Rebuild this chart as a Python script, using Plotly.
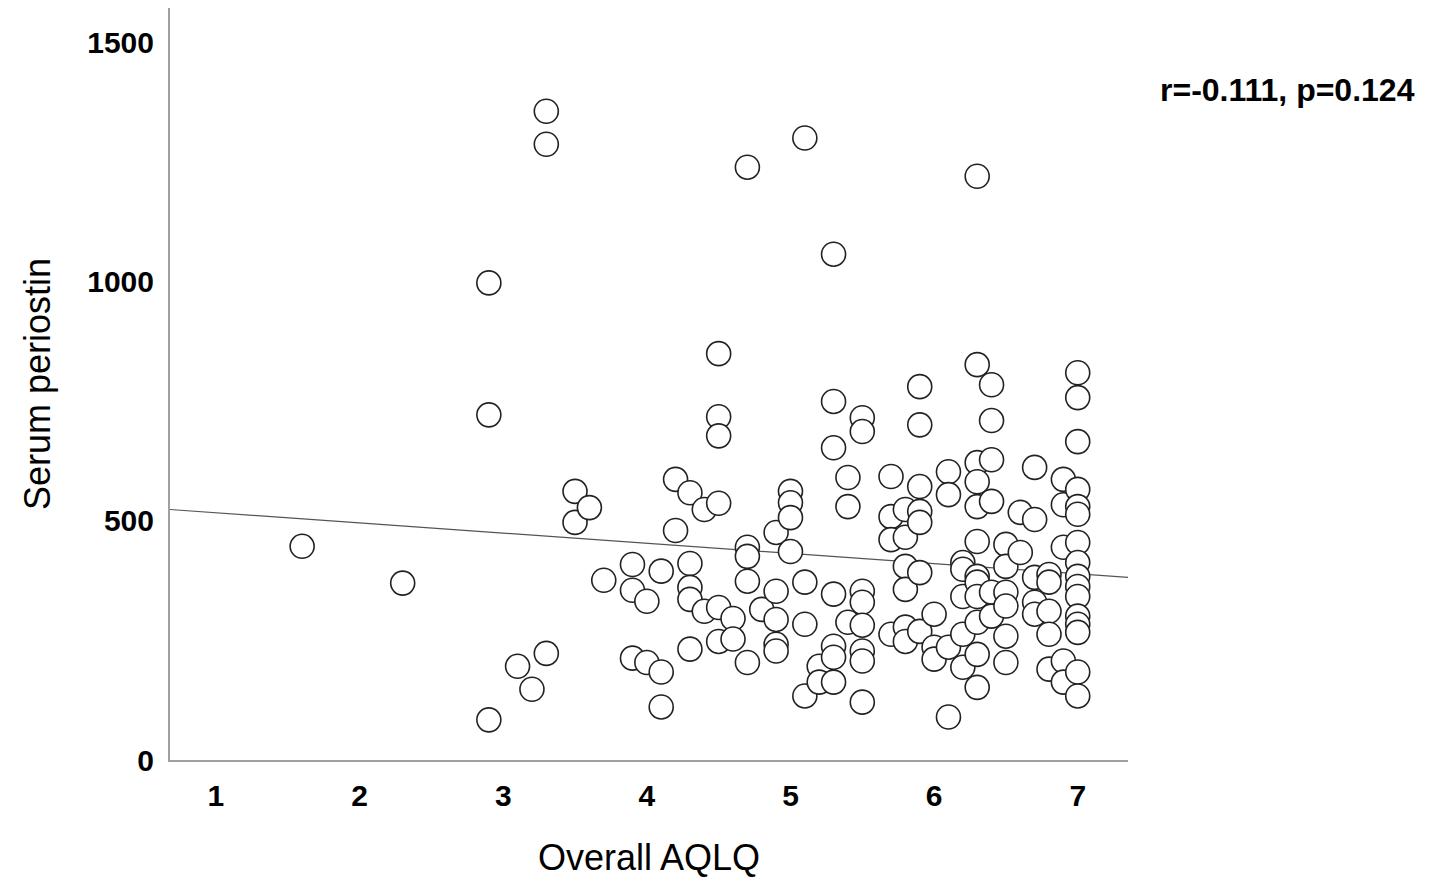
import plotly.graph_objects as go

# ---- data (Overall AQLQ vs Serum periostin) ----
aqlq_groups = [1.6, 2.3, 2.9, 3.1, 3.2, 3.3, 3.5, 3.6, 3.7, 3.9, 4.0, 4.1, 4.2, 4.3, 4.4, 4.5,
               4.6, 4.7, 4.8, 4.9, 5.0, 5.1, 5.2, 5.3, 5.4, 5.5, 5.7, 5.8, 5.9, 6.0, 6.1, 6.2,
               6.3, 6.4, 6.5, 6.6, 6.7, 6.8, 6.9, 7.0]
periostin_groups = [
    [447],
    [370],
    [998, 722, 84],
    [196],
    [148],
    [1357, 1288, 223],
    [562, 497],
    [528],
    [376],
    [409, 355, 213],
    [332, 204],
    [395, 184, 111],
    [587, 480],
    [559, 411, 361, 336, 232],
    [524, 311],
    [850, 718, 678, 537, 319, 248],
    [296, 253],
    [1240, 445, 426, 374, 204],
    [315],
    [476, 353, 294, 242, 228],
    [562, 538, 507, 436],
    [1301, 372, 284, 134],
    [196, 163],
    [1058, 750, 653, 347, 238, 215, 163],
    [591, 530, 288],
    [716, 687, 353, 330, 282, 228, 207, 121],
    [593, 509, 461, 263],
    [524, 466, 405, 357, 278, 248],
    [781, 701, 572, 520, 497, 392, 269],
    [305, 236, 211],
    [603, 555, 236, 90],
    [413, 399, 342, 263, 194],
    [1221, 827, 622, 582, 530, 457, 384, 372, 342, 288, 221, 152],
    [785, 710, 628, 541, 351, 301],
    [451, 405, 351, 322, 259, 204],
    [518, 434],
    [612, 503, 382, 330, 305],
    [388, 372, 311, 263, 190],
    [587, 534, 445, 207, 163],
    [810, 758, 666, 566, 530, 514, 455, 413, 384, 363, 342, 301, 284, 267, 184, 134],
]

fit_intercept = 538.5   # fitted line
fit_slope = -21.3
x_range = [0.68, 7.35]
y_range = [0, 1573]
x_ticks = [1, 2, 3, 4, 5, 6, 7]
y_ticks = [0, 500, 1000, 1500]
stat_text = "r=-0.111, p=0.124"

aqlq = []
periostin = []
for xv, ys in zip(aqlq_groups, periostin_groups):
    for yv in ys:
        aqlq.append(xv)
        periostin.append(yv)

fit_x = x_range
fit_y = [fit_intercept + fit_slope * v for v in fit_x]

fig = go.Figure()
fig.add_trace(go.Scatter(
    x=fit_x, y=fit_y, mode="lines",
    line=dict(color="#555555", width=1.2),
    showlegend=False, hoverinfo="skip"))
fig.add_trace(go.Scatter(
    x=aqlq, y=periostin, mode="markers",
    marker=dict(symbol="circle", size=24, color="white",
                line=dict(color="#222222", width=1.6)),
    showlegend=False))

font_family = "Liberation Sans, Arial, sans-serif"
fig.update_layout(
    width=1431, height=881,
    margin=dict(l=162, r=311, t=0, b=129, pad=0),
    paper_bgcolor="white", plot_bgcolor="white",
    font=dict(family=font_family, color="black"),
    xaxis=dict(range=x_range, tickvals=x_ticks,
               ticktext=[f"<b>{v}</b>" for v in x_ticks],
               tickfont=dict(size=30, family=font_family, color="black"),
               showgrid=False, zeroline=False, showline=True,
               linecolor="#a0a0a0", linewidth=2, ticks="", ticklen=0,
               ticklabelstandoff=8,
               title=dict(text="Overall AQLQ", font=dict(size=36, family=font_family, color="black"),
                          standoff=34)),
    yaxis=dict(range=y_range, tickvals=y_ticks,
               ticktext=[f"<b>{v}</b>" for v in y_ticks],
               tickfont=dict(size=30, family=font_family, color="black"),
               showgrid=False, zeroline=False, showline=True,
               linecolor="#a0a0a0", linewidth=2, ticks="", ticklen=0,
               ticklabelstandoff=8,
               title=dict(text="Serum periostin", font=dict(size=36, family=font_family, color="black"),
                          standoff=26)),
    annotations=[dict(text=f"<b>{stat_text}</b>", xref="paper", yref="paper",
                      x=1.031, y=0.891, xanchor="left", yanchor="middle", showarrow=False,
                      font=dict(size=32, family=font_family, color="black"))],
)

fig.write_html("out.html")
